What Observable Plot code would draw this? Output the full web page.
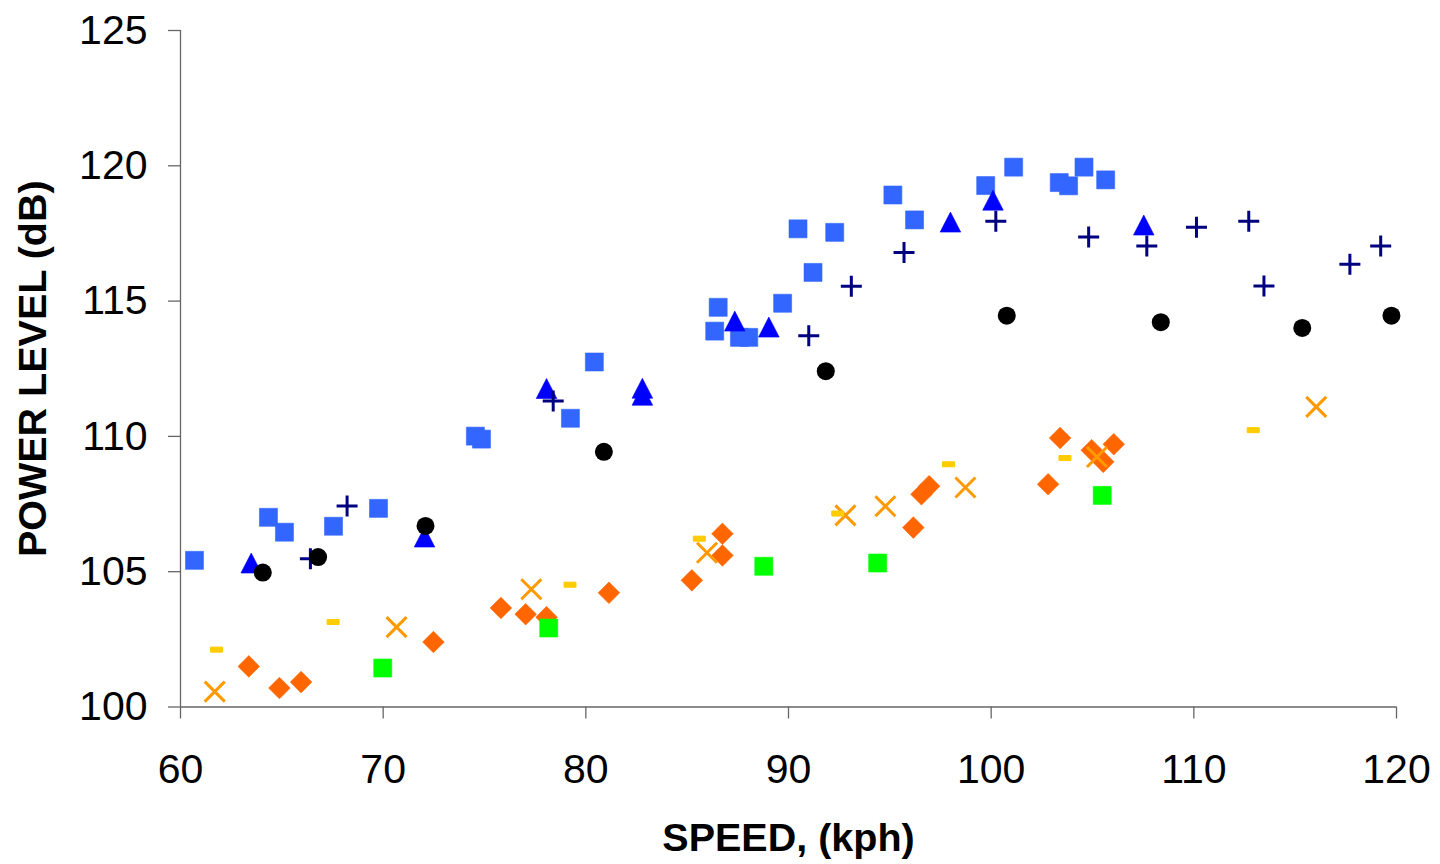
<!DOCTYPE html>
<html><head><meta charset="utf-8">
<script src="https://cdn.jsdelivr.net/npm/d3@7"></script>
<script src="https://cdn.jsdelivr.net/npm/@observablehq/plot@0.6"></script>
<style>body{margin:0;background:#fff} svg{display:block}</style>
</head><body><div id="chart"></div>
<script>
const xTicks = [60, 70, 80, 90, 100, 110, 120];
const yTicks = [100, 105, 110, 115, 120, 125];
const xTitle = "SPEED, (kph)";
const yTitle = "POWER LEVEL (dB)";

const squaresBlue = [[60.69,105.42],[64.34,107.01],[65.13,106.46],[67.55,106.68],[69.77,107.34],[74.55,110.01],[74.85,109.90],[79.24,110.67],[80.42,112.75],[86.36,113.89],[86.53,114.77],[87.58,113.66],[88.04,113.66],[89.71,114.92],[90.47,117.67],[91.21,116.06],[92.28,117.54],[95.15,118.92],[96.22,118.0],[99.73,119.27],[101.11,119.95],[103.36,119.38],[103.82,119.26],[104.58,119.95],[105.65,119.48]];
const trianglesBlue = [[63.49,105.32],[72.04,106.28],[78.06,111.77],[82.79,111.78],[82.79,111.52],[87.35,114.26],[89.03,114.04],[97.99,117.92],[100.09,118.73],[107.53,117.81]];
const plusNavy = [[66.41,105.48],[68.22,107.43],[78.39,111.31],[91.0,113.72],[93.10,115.55],[95.7,116.8],[100.23,117.95],[104.81,117.37],[107.68,117.04],[110.13,117.73],[112.71,117.95],[113.46,115.56],[117.70,116.36],[119.22,117.04]];
const circlesBlack = [[64.06,104.97],[66.79,105.54],[72.09,106.69],[80.89,109.43],[91.84,112.41],[100.77,114.46],[108.37,114.22],[115.35,114.01],[119.75,114.46]];
const diamondsOrange = [[63.37,101.5],[64.88,100.7],[65.95,100.92],[72.48,102.4],[75.81,103.66],[77.03,103.43],[78.06,103.32],[81.14,104.22],[85.23,104.68],[86.74,105.6],[86.74,106.4],[96.16,106.63],[96.56,107.86],[96.94,108.16],[102.81,108.23],[103.4,109.94],[104.96,109.49],[105.53,109.06],[106.05,109.71]];
const timesOrange = [[61.69,100.57],[70.66,102.95],[77.31,104.35],[85.98,105.7],[92.81,107.08],[94.78,107.42],[98.73,108.11],[105.22,109.24],[116.04,111.09]];
const dashYellow = [[61.78,102.12],[67.53,103.14],[79.22,104.52],[85.6,106.22],[92.43,107.15],[97.9,108.97],[103.64,109.2],[112.93,110.23]];
const squaresGreen = [[69.98,101.44],[78.17,102.92],[88.78,105.2],[94.4,105.32],[105.48,107.82]];

const half = s => Math.sqrt(s / Math.PI);
const symSquare = {draw(c, s) { const h = half(s); c.rect(-h, -h, 2*h, 2*h); }};
const symTri = {draw(c, s) { const h = half(s); c.moveTo(0, -h); c.lineTo(h*1.03, h); c.lineTo(-h*1.03, h); c.closePath(); }};
const symPlus = {draw(c, s) { const h = half(s); c.moveTo(-h, 0); c.lineTo(h, 0); c.moveTo(0, -h); c.lineTo(0, h); }};
const symTimes = {draw(c, s) { const h = half(s); c.moveTo(-h, -h); c.lineTo(h, h); c.moveTo(h, -h); c.lineTo(-h, h); }};
const symDiamond = {draw(c, s) { const h = half(s); c.moveTo(0, -h); c.lineTo(h, 0); c.lineTo(0, h); c.lineTo(-h, 0); c.closePath(); }};
const symDash = {draw(c, s) { const h = half(s); c.rect(-h, -h*0.42, 2*h, h*0.84); }};

const X = d => d[0], Y = d => d[1];
const font = "Liberation Sans, Arial, Helvetica, sans-serif";

const chart = Plot.plot({
  width: 1440, height: 864,
  marginLeft: 180, marginRight: 44, marginTop: 30, marginBottom: 157.5,
  style: {fontFamily: font, background: "#fff", color: "black"},
  x: {domain: [60, 120], label: null},
  y: {domain: [100, 125], label: null},
  marks: [
    Plot.ruleX([60], {stroke: "#666", strokeWidth: 1.3}),
    Plot.ruleY([100], {stroke: "#666", strokeWidth: 1.3}),
    Plot.axisX(xTicks, {tickSize: 12, tickPadding: 35, fontSize: 41, stroke: "#666", strokeWidth: 1.3, fill: "black", label: null}),
    Plot.axisY(yTicks, {tickSize: 12, tickPadding: 21, fontSize: 41, stroke: "#666", strokeWidth: 1.3, fill: "black", label: null}),
    Plot.dot(squaresBlue, {x: X, y: Y, symbol: symSquare, r: 9, fill: "#3366FF", stroke: "#3366FF", strokeWidth: 0.6, strokeLinejoin: "round"}),
    Plot.dot(trianglesBlue, {x: X, y: Y, symbol: symTri, r: 10, fill: "#0000FF", stroke: "#0000FF", strokeWidth: 0.6, strokeLinejoin: "round"}),
    Plot.dot(plusNavy, {x: X, y: Y, symbol: symPlus, r: 10.5, fill: "none", stroke: "#000080", strokeWidth: 3}),
    Plot.dot(circlesBlack, {x: X, y: Y, symbol: "circle", r: 9, fill: "black", stroke: "none"}),
    Plot.dot(diamondsOrange, {x: X, y: Y, symbol: symDiamond, r: 10.8, fill: "#FF6600", stroke: "#FF6600", strokeWidth: 0.6, strokeLinejoin: "round"}),
    Plot.dot(timesOrange, {x: X, y: Y, symbol: symTimes, r: 10, fill: "none", stroke: "#FF9900", strokeWidth: 3}),
    Plot.dot(dashYellow, {x: X, y: Y, symbol: symDash, r: 6, fill: "#FFCC00", stroke: "#FFCC00", strokeWidth: 1, strokeLinejoin: "round"}),
    Plot.dot(squaresGreen, {x: X, y: Y, symbol: symSquare, r: 9, fill: "#00FF00", stroke: "#00FF00", strokeWidth: 0.6, strokeLinejoin: "round"}),
    Plot.text([xTitle], {text: d => d, frameAnchor: "bottom", dy: 131, textAnchor: "middle", lineAnchor: "middle", fontSize: 39.5, fontWeight: "bold", fill: "black"}),
    Plot.text([yTitle], {text: d => d, frameAnchor: "left", dx: -147, rotate: -90, textAnchor: "middle", lineAnchor: "middle", fontSize: 39.5, fontWeight: "bold", fill: "black"})
  ]
});
document.getElementById("chart").appendChild(chart);
</script>
</body></html>
